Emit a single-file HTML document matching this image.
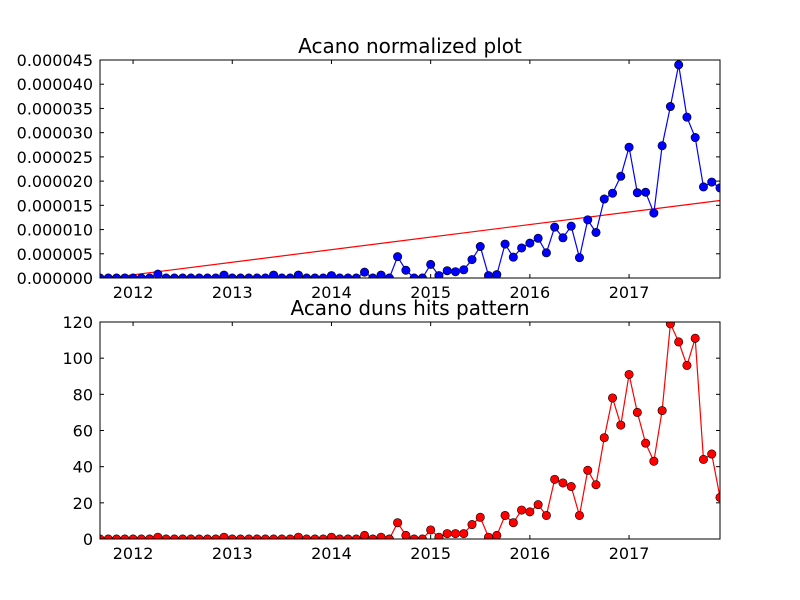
<!DOCTYPE html>
<html><head><meta charset="utf-8"><style>
body{margin:0;background:#fff;}
svg{display:block;font-family:"DejaVu Sans","Liberation Sans",sans-serif;}
</style></head><body>
<svg id="c" width="800" height="600"></svg>
<script>
const months = 76; // monthly points starting Sep 2011
const hits = [0,0,0,0,0,0,0,1,0,0,0,0,0,0,0,1,0,0,0,0,0,0,0,0,1,0,0,0,1,0,0,0,2,0,1,0,9,2,0,0,5,1,3,3,3,8,12,1,2,13,9,16,15,19,13,33,31,29,13,38,30,56,78,63,91,70,53,43,71,119,109,96,111,44,47,23];
const norm = [0,0,0,0,0,0,0,0.8,0,0,0,0,0,0,0,0.6,0,0,0,0,0,0.6,0,0,0.6,0,0,0,0.5,0,0,0,1.2,0,0.6,0,4.4,1.6,0,0,2.8,0.5,1.5,1.3,1.7,3.8,6.5,0.5,0.7,7.0,4.3,6.2,7.2,8.2,5.2,10.5,8.3,10.7,4.2,12.0,9.4,16.3,17.5,21.0,27.0,17.6,17.7,13.4,27.3,35.4,44.0,33.2,29.0,18.8,19.8,18.6];
const trend = [-0.2,16.0];
const yearLabels = ["2012","2013","2014","2015","2016","2017"];
const topTicks = ["0.000000","0.000005","0.000010","0.000015","0.000020","0.000025","0.000030","0.000035","0.000040","0.000045"];
const botTicks = ["0","20","40","60","80","100","120"];

const NS="http://www.w3.org/2000/svg";
const svg=document.getElementById('c');
function el(t,a,p){const e=document.createElementNS(NS,t);for(const k in a)e.setAttribute(k,a[k]);(p||svg).appendChild(e);return e;}
const X0=100,X1=720,start=2011+8/12,end=start+(months-1)/12;
function xs(t){return X0+(t-start)/(end-start)*(X1-X0);}
function panel(y0,y1,vmax,ticks,tickScale,title,values,color,name){
  const g=el('g',{});
  
  
  const ys=v=>y1-(v/vmax)*(y1-y0);
  const clip=el('clipPath',{id:'cl'+name},g);el('rect',{x:X0,y:y0,width:X1-X0,height:y1-y0},clip);
  ticks.forEach((lab,i)=>{const v=i*tickScale;const y=ys(v);
    el('line',{x1:X0,x2:X0+4,y1:y,y2:y,stroke:'#000'},g);el('line',{x1:X1,x2:X1-4,y1:y,y2:y,stroke:'#000'},g);
    const t=el('text',{x:X0-7,y:y+6,'text-anchor':'end','font-size':16},g);t.textContent=lab;
    
    });
  yearLabels.forEach(lab=>{const x=xs(+lab);
    el('line',{x1:x,x2:x,y1:y1,y2:y1-4,stroke:'#000'},g);el('line',{x1:x,x2:x,y1:y0,y2:y0+4,stroke:'#000'},g);
    const t=el('text',{x:x,y:y1+20,'text-anchor':'middle','font-size':16},g);t.textContent=lab;
    
    });
  const inner=el('g',{'clip-path':'url(#cl'+name+')'},g);
  if(name==='top-panel'){
    const l=el('line',{x1:X0,x2:X1,y1:ys(trend[0]),y2:ys(trend[1]),stroke:'#f00','stroke-width':1.2},inner);
    
    
  }
  const pts=values.map((v,i)=>[xs(start+i/12),ys(v)]);
  const pl=el('polyline',{points:pts.map(p=>p.join(',')).join(' '),fill:'none',stroke:color,'stroke-width':1.2},inner);
  
  
  pts.forEach(p=>{const c=el('circle',{cx:p[0],cy:p[1],r:4.2,fill:color,stroke:'#000','stroke-width':0.6},inner);
    
    });
  el('rect',{x:X0,y:y0,width:X1-X0,height:y1-y0,fill:'none',stroke:'#000','stroke-width':1},g);
  const tt=el('text',{x:(X0+X1)/2,y:y0-7,'text-anchor':'middle','font-size':20},g);tt.textContent=title;
  
  
}
panel(60,278,45,topTicks,5,'Acano normalized plot',norm,'#0000ff','top-panel');
panel(322,539,120,botTicks,20,'Acano duns hits pattern',hits,'#ff0000','bottom-panel');
</script>
</body></html>
